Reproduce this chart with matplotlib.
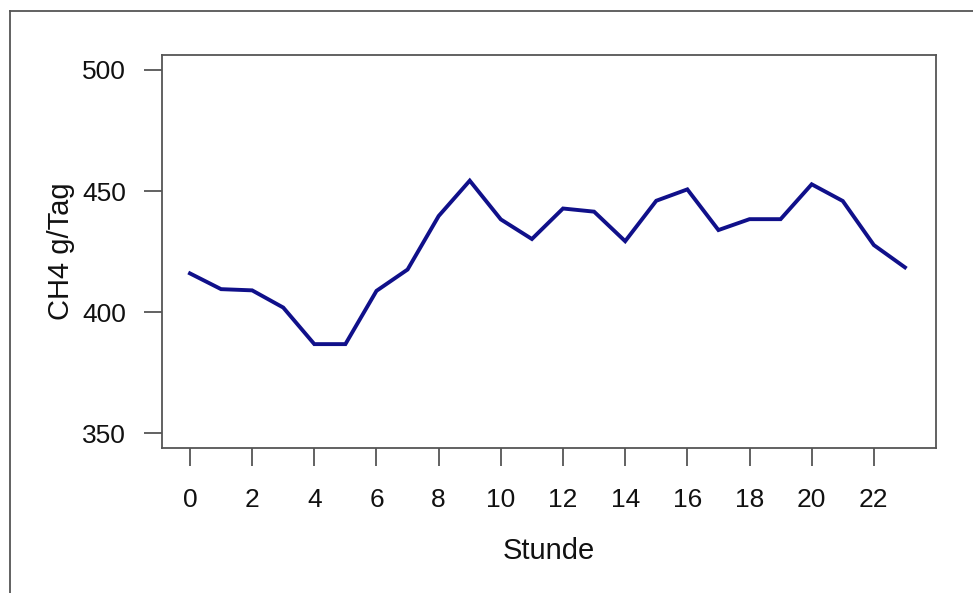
import matplotlib

matplotlib.use("Agg")
import matplotlib.pyplot as plt
from matplotlib.lines import Line2D

plt.rcParams["font.family"] = ["Liberation Sans", "DejaVu Sans"]

# Hourly mean methane output
stunden = list(range(24))
ch4 = [416.0, 409.5, 409.0, 401.9, 386.8, 386.8, 408.8, 417.6,
       439.7, 454.3, 438.3, 430.2, 442.8, 441.5, 429.3, 446.0,
       450.7, 433.9, 438.4, 438.4, 452.8, 445.9, 427.7, 418.5]
x_ticks = list(range(0, 24, 2))
y_ticks = [350, 400, 450, 500]

grey = "#555555"
line_col = "#10108a"
text_col = "#111111"

fig = plt.figure(figsize=(9.73, 5.93), dpi=100)
ax = fig.add_axes([0.1665, 0.2445, 0.7955, 0.6628])

ax.plot(stunden, ch4, color=line_col, linewidth=2.8, solid_joinstyle="miter")

ax.set_xlim(-0.9, 24.0)
ax.set_ylim(343.9, 506.2)
ax.set_xticks(x_ticks)
ax.set_yticks(y_ticks)

for side in ax.spines.values():
    side.set_color(grey)
    side.set_linewidth(1.3)

ax.tick_params(axis="both", direction="out", length=13, width=1.3,
               color=grey, labelsize=19, labelcolor=text_col)
ax.tick_params(axis="x", pad=16)
ax.tick_params(axis="y", pad=13)

ax.set_xlabel("Stunde", fontsize=21, color=text_col, labelpad=18)
ax.set_ylabel("CH4 g/Tag", fontsize=21, color=text_col, labelpad=5)

# outer frame (left and top edges only)
fig.add_artist(Line2D([10 / 973, 10 / 973], [0, 1 - 11 / 593],
                      transform=fig.transFigure, color=grey, linewidth=1.3))
fig.add_artist(Line2D([10 / 973, 1], [1 - 11 / 593, 1 - 11 / 593],
                      transform=fig.transFigure, color=grey, linewidth=1.3))

fig.savefig("out.png", dpi=100)
plt.close(fig)
